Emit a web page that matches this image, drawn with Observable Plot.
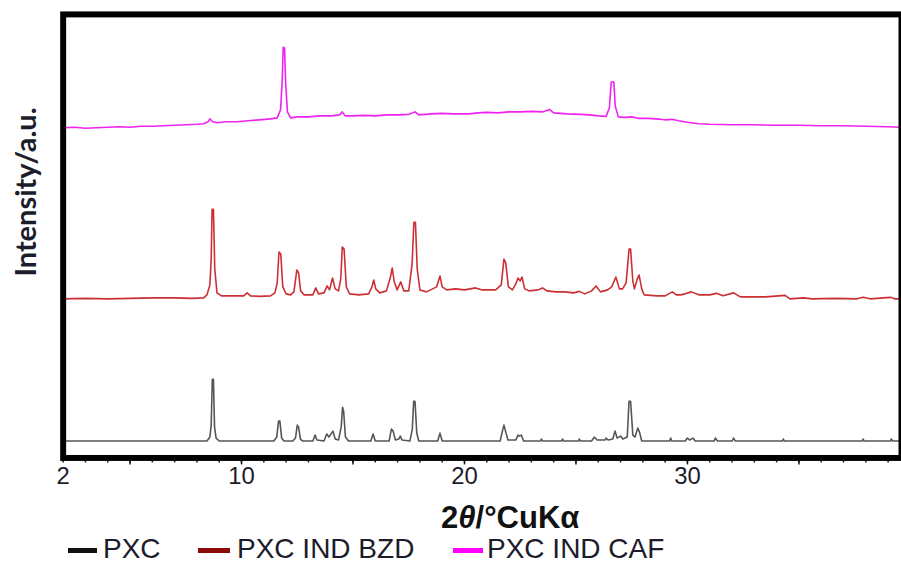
<!DOCTYPE html>
<html>
<head>
<meta charset="utf-8">
<script src="https://cdn.jsdelivr.net/npm/d3@7"></script>
<script src="https://cdn.jsdelivr.net/npm/@observablehq/plot@0.6"></script>
<style>
  html, body { margin: 0; padding: 0; background: #fff; }
  #wrap { position: relative; width: 901px; height: 563px; overflow: hidden; font-family: "Liberation Sans", Arial, sans-serif; }
  #chart { position: absolute; left: 0; top: 0; }
  .ylab { position: absolute; left: 25px; top: 192px; transform: translate(-50%, -50%) rotate(-90deg); white-space: nowrap;
          font-family: Lato, "Open Sans", sans-serif; font-weight: 700; font-size: 29px; line-height: 30px; color: #1c1c2a; }
  .xlab { position: absolute; left: 441px; top: 503px; white-space: nowrap; font-weight: 700; font-size: 31px; color: #111; line-height: 30px; }
  .leg { position: absolute; top: 536px; white-space: nowrap; font-size: 28px; line-height: 26px; color: #1c1c2a; }
  .sw { position: absolute; top: 548px; height: 5px; }
</style>
</head>
<body>
<div id="wrap">
  <div id="chart"></div>
  <div class="ylab">Intensity/a.u.</div>
  <div class="xlab">2<i>θ</i>/°CuKα</div>
  <div id="legend"></div>
</div>
<script>
// ---- data ----
const seriesNames = ["PXC", "PXC IND BZD", "PXC IND CAF"];
const seriesOffsets = [17, 160, 332];   // vertical stacking offset of each pattern

// [2θ, intensity above own baseline]
const pxcPoints = [
  [2,0],[8.45,0],[8.58,4],[8.64,16],[8.69,62],[8.74,62],[8.79,14],[8.86,3],[9.0,0],
  [11.45,0],[11.58,4],[11.66,20],[11.72,20],[11.8,3],[11.9,0],
  [12.3,0],[12.42,3],[12.5,16],[12.56,14],[12.64,2],[12.75,0],
  [13.2,0],[13.3,6],[13.38,1],[13.7,0],[13.82,7],[13.92,4],[14.1,10],[14.2,2],[14.35,1],[14.47,14],[14.53,34],[14.58,30],[14.66,4],[14.8,0],
  [15.8,0],[15.9,7],[16.0,0],
  [16.62,0],[16.72,12],[16.8,10],[16.9,1],[17.05,2],[17.12,5],[17.2,1],[17.55,0],[17.66,12],[17.72,40],[17.78,40],[17.86,8],[17.95,0],
  [18.8,0],[18.9,8],[19.0,0],
  [21.6,0],[21.7,10],[21.77,16],[21.84,10],[21.95,1],[22.3,1],[22.4,6],[22.47,5],[22.55,6],[22.65,0],
  [23.4,0],[23.45,2],[23.5,0],[24.35,0],[24.4,2],[24.45,0],[25.1,0],[25.15,2],[25.2,0],
  [25.7,0],[25.82,4],[25.95,1],[26.3,1],[26.35,3],[26.45,1],[26.65,2],[26.75,10],[26.85,3],[27.0,5],[27.1,2],
  [27.3,4],[27.38,40],[27.45,40],[27.55,6],[27.65,4],[27.77,13],[27.85,9],[27.95,0],
  [29.2,0],[29.25,3],[29.3,0],[29.9,0],[30.0,3],[30.1,1],[30.25,3],[30.35,0],[31.2,0],[31.25,3],[31.35,0],
  [32.0,0],[32.07,3],[32.15,0],[34.25,0],[34.3,2],[34.35,0],[37.83,0],[37.88,2],[37.93,0],[39.1,0],[39.14,2],[39.2,0],[39.6,0]
];

const bzdPoints = [
  [2,0],[3,0.5],[4,0],[5,0.5],[6,1],[7,1],[7.8,0.5],[8.3,1],[8.45,4],[8.58,14],[8.64,40],[8.68,90],[8.74,90],[8.8,30],[8.9,6],[9.1,3],
  [9.6,3],[10.1,3],[10.25,6],[10.4,3],[10.8,2.5],[11.3,3],[11.5,6],[11.6,16],[11.68,47],[11.76,45],[11.85,12],[12.0,5],[12.2,4],
  [12.35,7],[12.48,29],[12.56,26],[12.65,8],[12.8,4],[13.2,4],[13.33,11],[13.45,5],[13.7,6],[13.84,13],[13.95,9],[14.08,21],[14.2,10],
  [14.35,8],[14.45,20],[14.52,52],[14.6,50],[14.7,12],[14.85,5],[15.26,4],[15.7,5],[15.85,12],[15.93,19],[16.02,10],[16.2,6],
  [16.5,8],[16.68,22],[16.76,31],[16.85,17],[16.98,9],[17.14,17],[17.28,8],[17.5,8],[17.65,35],[17.73,77],[17.8,77],[17.88,30],
  [18.0,9],[18.3,7],[18.75,12],[18.9,23],[19.0,12],[19.2,9],[19.6,10],[20.0,9],[20.5,11],[20.8,9],[21.4,9],[21.65,14],[21.77,40],
  [21.85,36],[21.97,12],[22.15,9],[22.3,15],[22.4,21],[22.5,18],[22.58,22],[22.7,10],[22.9,8],[23.3,9],[23.5,11],[23.7,8],
  [24.1,7],[24.5,7],[24.9,6],[25.15,7.5],[25.4,5],[25.7,8],[25.9,13],[26.1,7],[26.42,9],[26.6,12],[26.79,22],[26.95,10],[27.09,10],
  [27.25,16],[27.38,50],[27.45,50],[27.55,18],[27.62,10],[27.75,20],[27.83,24],[27.95,10],[28.06,4],[28.65,3],[29.0,3],[29.32,7],
  [29.5,4],[29.69,4],[29.9,5],[30.17,7],[30.51,4],[31.0,4],[31.3,5.5],[31.6,3],[32.07,6],[32.37,2],[33.0,2],[33.5,2],[34.38,3.5],
  [34.6,0],[35.2,1],[35.6,0],[36.6,0.5],[37.6,0],[37.88,1.5],[38.2,0],[39.1,1.5],[39.3,0],[39.6,0]
];

const cafPoints = [
  [2,0],[2.5,0.5],[3,-0.5],[3.5,0],[4,0.5],[4.5,1],[5,0.5],[5.5,1.5],[6,1.5],[6.5,2],[7,2.5],[7.5,3],[8,3.5],[8.3,4],[8.5,6],[8.58,9],
  [8.7,6],[8.9,5],[9.3,6],[9.8,6],[10.3,7],[10.8,8],[11.3,9],[11.6,10],[11.75,18],[11.82,45],[11.87,81],[11.93,80],[11.98,45],[12.06,16],
  [12.2,10],[12.5,11],[13,11],[13.5,12],[14,12],[14.4,13],[14.52,16],[14.65,12],[15,12],[15.5,12.5],[16,12],[16.5,13],[17,13],[17.5,13.5],
  [17.79,16],[17.95,13],[18.5,14],[19,14.5],[19.5,14],[20.2,14],[20.6,15],[21,15.5],[21.5,15],[22,16],[22.5,16],[23,16.5],[23.5,16],
  [23.81,18.5],[24,15],[24.6,14],[25.2,13.5],[25.6,13],[26,12],[26.35,11.5],[26.5,20],[26.58,46],[26.7,46],[26.76,22],[26.9,11],
  [27.2,10.5],[27.5,11],[27.8,9.5],[28.2,9.5],[28.6,9],[29,8],[29.3,8.5],[29.6,7],[30,5.5],[30.5,4],[31,3.5],[32,3],[33,3],[34,2.5],
  [35,2.5],[36,2],[37,2],[38,1.5],[39,1],[39.6,0.5]
];

const xTickLabels = [2, 10, 20, 30];
const xMajorTicks = [5, 10, 15, 20, 25, 30, 35];
const xMinorTicks = d3.range(2, 40, 1);

// ---- styles ----
const lineColors = ["#555555", "#cc2f33", "#f022f0"];
const swatchColors = ["#111111", "#8b0a0a", "#ff00ff"];

const allPoints = [pxcPoints, bzdPoints, cafPoints];
const rows = [];
allPoints.forEach((pts, i) => pts.forEach(([t, I]) => rows.push({series: seriesNames[i], t, I: I + seriesOffsets[i]})));

const chart = Plot.plot({
  width: 906,
  height: 500,
  marginLeft: 63,
  marginRight: 0,
  marginTop: 14,
  marginBottom: 40,
  style: {fontFamily: "'Liberation Sans', Arial, sans-serif", background: "transparent", overflow: "visible"},
  x: {domain: [2, 39.6]},
  y: {domain: [0, 446], axis: null},
  color: {domain: seriesNames, range: lineColors},
  marks: [
    Plot.line(rows, {x: "t", y: "I", z: "series", stroke: "series", strokeWidth: 1.6, curve: "linear"}),
    Plot.axisX({ticks: xMinorTicks, tickSize: 5, text: null, strokeWidth: 1.5, stroke: "#111", label: null}),
    Plot.axisX({ticks: xMajorTicks, tickSize: 7, text: null, strokeWidth: 1.5, stroke: "#111", label: null}),
    Plot.axisX({ticks: xTickLabels, tickSize: 0, tickPadding: 9, fontSize: 24, fill: "#1c1c2a", label: null, tickFormat: d => String(d)}),
    Plot.frame({stroke: "#000", strokeWidth: 6})
  ]
});
document.getElementById("chart").appendChild(chart);

// ---- legend ----
const legendSwatchX = [68, 198, 453];
const legendTextX = [103, 237, 487];
const legendSwatchW = [29, 32, 30];
const leg = document.getElementById("legend");
seriesNames.forEach((name, i) => {
  const sw = document.createElement("div");
  sw.className = "sw";
  sw.style.left = legendSwatchX[i] + "px";
  sw.style.width = legendSwatchW[i] + "px";
  sw.style.background = swatchColors[i];
  leg.appendChild(sw);
  const tx = document.createElement("div");
  tx.className = "leg";
  tx.style.left = legendTextX[i] + "px";
  tx.textContent = name;
  leg.appendChild(tx);
});
</script>
</body>
</html>
